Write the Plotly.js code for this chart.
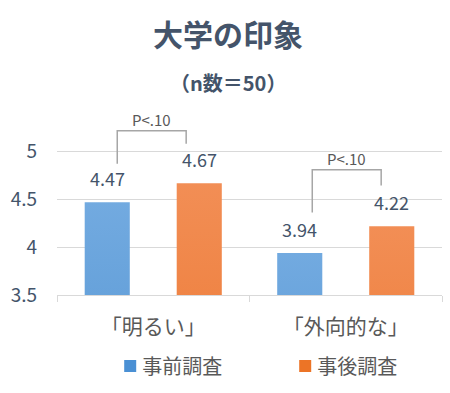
<!DOCTYPE html>
<html><head><meta charset="utf-8">
<script src="https://cdn.plot.ly/plotly-3.0.1.min.js"></script>
<style>body{margin:0;background:#fff}#chart{width:450px;height:393px}</style>
</head><body><div id="chart"></div>
<script>
const categories = ["「明るい」", "「外向的な」"];
const seriesNames = ["事前調査", "事後調査"];
const preValues = [4.47, 3.94];
const postValues = [4.67, 4.22];
const sigLabels = ["P<.10", "P<.10"];
const yTicks = [3.5, 4, 4.5, 5];
const yTickText = ["3.5", "4", "4.5", "5"];

const FONT = '"Noto Sans CJK JP", "Noto Sans", sans-serif';
const TXT = '#44546a';
const GRAY = '#595959';
const idx = categories.map((c, i) => i);

const traces = [
  {type: 'bar', name: seriesNames[0], x: idx, y: preValues, marker: {color: '#5b9bd5'}, base: 0},
  {type: 'bar', name: seriesNames[1], x: idx, y: postValues, marker: {color: '#ed7d31'}, base: 0},
  // invisible trace on overlay axis to draw category boundary ticks
  {type: 'scatter', x: [0], y: [4], xaxis: 'x2', mode: 'none', showlegend: false, hoverinfo: 'skip'}
];

const off = 0.239;
const annotations = [];
idx.forEach(i => {
  annotations.push({x: i - off, y: preValues[i], text: preValues[i].toFixed(2), showarrow: false, yshift: 24, font: {size: 18, color: TXT, family: FONT}});
  annotations.push({x: i + off, y: postValues[i], text: postValues[i].toFixed(2), showarrow: false, yshift: 24, font: {size: 18, color: TXT, family: FONT}});
});
annotations.push({xref: 'paper', yref: 'paper', x: 0.444, y: 1.115, xanchor: 'center', yanchor: 'middle', text: '<b>（n数＝50）</b>', showarrow: false, font: {size: 20, color: TXT, family: FONT}});

// significance brackets (positions in data units)
const brackets = [
  {c: 0, l: -0.187, r: 0.171, yl: 4.875, yr: 5.083, top: 5.219, ty: 5.333},
  {c: 1, l: -0.174, r: 0.184, yl: 4.365, yr: 4.646, top: 4.8125, ty: 4.927}
];
const shapes = [];
brackets.forEach((b, k) => {
  const x0 = b.c + b.l, x1 = b.c + b.r;
  shapes.push({type: 'path', xref: 'x', yref: 'y',
    path: `M${x0},${b.yl} L${x0},${b.top} L${x1},${b.top} L${x1},${b.yr}`,
    line: {color: '#a6a6a6', width: 1.5}});
  annotations.push({x: (x0 + x1) / 2, y: b.ty, text: sigLabels[k], showarrow: false, font: {size: 15, color: GRAY, family: FONT}});
});

const layout = {
  width: 450, height: 393,
  margin: {l: 57, r: 8, t: 104, b: 98},
  paper_bgcolor: '#fff', plot_bgcolor: '#fff',
  font: {family: FONT, color: TXT},
  title: {text: '<b>大学の印象</b>', x: 228/450, xanchor: 'center', xref: 'container', y: 1 - 35/393, yanchor: 'middle', font: {size: 30, color: TXT, family: FONT}},
  barmode: 'group', bargap: 0.044, bargroupgap: 0.51,
  showlegend: true,
  legend: {orientation: 'h', x: 0.52, xanchor: 'center', y: -0.372, yanchor: 'middle', font: {size: 20, color: GRAY, family: FONT}, entrywidth: 130, itemclick: false},
  xaxis: {type: 'linear', range: [-0.5, 1.5], tickvals: idx, ticktext: categories, showgrid: false,
    showline: true, linecolor: '#d9d9d9', linewidth: 1, ticks: '', zeroline: false,
    tickfont: {size: 21, color: GRAY, family: FONT}, ticklabelstandoff: 13},
  xaxis2: {overlaying: 'x', matches: 'x', side: 'bottom', anchor: 'y', range: [-0.5, 1.5], tickvals: [-0.5, 0.5, 1.5],
    showticklabels: false, ticks: 'outside', ticklen: 6, tickcolor: '#d9d9d9', tickwidth: 1, showgrid: false, showline: false, zeroline: false},
  yaxis: {range: [3.5, 5.5], tickvals: yTicks, ticktext: yTickText, showgrid: true, gridcolor: '#d9d9d9', gridwidth: 1,
    zeroline: false, showline: false, tickfont: {size: 19, color: TXT, family: FONT}, ticklabelstandoff: 19},
  shapes: shapes,
  annotations: annotations
};

Plotly.newPlot('chart', traces, layout, {staticPlot: true}).then(gd => {
  const svg = gd.querySelector('svg.main-svg');
  const ns = 'http://www.w3.org/2000/svg';
  let defs = svg.querySelector('defs');
  const mk = (id, c1, c2) => {
    const g = document.createElementNS(ns, 'linearGradient');
    g.setAttribute('id', id); g.setAttribute('x1', '0'); g.setAttribute('y1', '0'); g.setAttribute('x2', '0'); g.setAttribute('y2', '1');
    [[0, c1], [1, c2]].forEach(([o, c]) => {
      const s = document.createElementNS(ns, 'stop'); s.setAttribute('offset', o); s.setAttribute('stop-color', c); g.appendChild(s);
    });
    defs.appendChild(g);
  };
  mk('gBlue', '#72aae0', '#3f86c9');
  mk('gOrange', '#f28e55', '#e8691a');
  gd.querySelectorAll('.barlayer .trace').forEach((t, k) => {
    t.querySelectorAll('path').forEach(p => { p.style.fill = k === 0 ? 'url(#gBlue)' : 'url(#gOrange)'; });
  });
  gd.querySelectorAll('.legend .traces').forEach((t, k) => {
    t.querySelectorAll('.legendpoints path').forEach(p => { p.style.fill = k === 0 ? '#4a90d4' : '#ec7426'; });
    const txt = t.querySelector('text.legendtext');
    if (txt) txt.setAttribute('x', '32');
  });
  const leg = gd.querySelector('g.legend');
  if (leg) {
    const m = /translate\(([-\d.]+)[ ,]+([-\d.]+)\)/.exec(leg.getAttribute('transform') || '');
    if (m) leg.setAttribute('transform', `translate(${parseFloat(m[1]) + 28},${m[2]})`);
  }
});
</script>
</body></html>
